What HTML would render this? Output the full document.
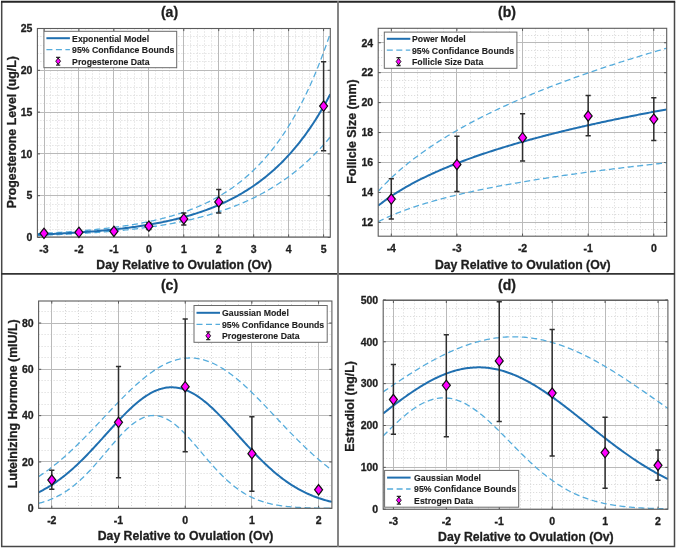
<!DOCTYPE html><html><head><meta charset="utf-8"><style>html,body{margin:0;padding:0;background:#fff;overflow:hidden}svg{display:block;filter:blur(0.35px)}</style></head><body><svg width="676" height="549" viewBox="0 0 676 549" font-family='"Liberation Sans", sans-serif'><rect width="676" height="549" fill="#fff"/><clipPath id="c3728"><rect x="37.4" y="28.5" width="292.9" height="208.5"/></clipPath><path d="M50.5,28.5V237M57.5,28.5V237M64.5,28.5V237M71.5,28.5V237M85.5,28.5V237M92.5,28.5V237M99.5,28.5V237M106.5,28.5V237M120.5,28.5V237M127.5,28.5V237M134.5,28.5V237M141.5,28.5V237M155.5,28.5V237M162.5,28.5V237M169.5,28.5V237M176.5,28.5V237M190.5,28.5V237M197.5,28.5V237M204.5,28.5V237M211.5,28.5V237M225.5,28.5V237M232.5,28.5V237M239.5,28.5V237M246.5,28.5V237M260.5,28.5V237M267.5,28.5V237M274.5,28.5V237M281.5,28.5V237M295.5,28.5V237M302.5,28.5V237M309.5,28.5V237M316.5,28.5V237M37.4,229.5H330.3M37.4,220.5H330.3M37.4,212.5H330.3M37.4,204.5H330.3M37.4,187.5H330.3M37.4,178.5H330.3M37.4,170.5H330.3M37.4,162.5H330.3M37.4,145.5H330.3M37.4,137.5H330.3M37.4,128.5H330.3M37.4,120.5H330.3M37.4,103.5H330.3M37.4,95.5H330.3M37.4,87.5H330.3M37.4,78.5H330.3M37.4,61.5H330.3M37.4,53.5H330.3M37.4,45.5H330.3M37.4,36.5H330.3" stroke="#d6d6d6" stroke-width="1" stroke-dasharray="1,2" fill="none"/><path d="M44.5,28.5V237M78.5,28.5V237M113.5,28.5V237M148.5,28.5V237M183.5,28.5V237M218.5,28.5V237M253.5,28.5V237M288.5,28.5V237M323.5,28.5V237M37.4,237.5H330.3M37.4,195.5H330.3M37.4,153.5H330.3M37.4,112.5H330.3M37.4,70.5H330.3M37.4,28.5H330.3" stroke="#bababa" stroke-width="1" fill="none"/><path d="M44,237v-2.6M44,28.5v2.6M78.95,237v-2.6M78.95,28.5v2.6M113.9,237v-2.6M113.9,28.5v2.6M148.85,237v-2.6M148.85,28.5v2.6M183.8,237v-2.6M183.8,28.5v2.6M218.75,237v-2.6M218.75,28.5v2.6M253.7,237v-2.6M253.7,28.5v2.6M288.65,237v-2.6M288.65,28.5v2.6M323.6,237v-2.6M323.6,28.5v2.6M37.4,237.5h2.6M330.3,237.5h-2.6M37.4,195.7h2.6M330.3,195.7h-2.6M37.4,153.9h2.6M330.3,153.9h-2.6M37.4,112.1h2.6M330.3,112.1h-2.6M37.4,70.3h2.6M330.3,70.3h-2.6M37.4,28.5h2.6M330.3,28.5h-2.6" stroke="#555" stroke-width="1" fill="none"/><g clip-path="url(#c3728)"><path d="M37.4,233.6 L38.87,233.53 L40.34,233.45 L41.82,233.38 L43.29,233.31 L44.76,233.23 L46.23,233.15 L47.7,233.07 L49.17,232.99 L50.65,232.91 L52.12,232.83 L53.59,232.74 L55.06,232.66 L56.53,232.57 L58.01,232.48 L59.48,232.39 L60.95,232.29 L62.42,232.2 L63.89,232.1 L65.37,232 L66.84,231.9 L68.31,231.8 L69.78,231.69 L71.25,231.59 L72.72,231.48 L74.2,231.37 L75.67,231.25 L77.14,231.14 L78.61,231.02 L80.08,230.9 L81.56,230.78 L83.03,230.66 L84.5,230.53 L85.97,230.4 L87.44,230.27 L88.92,230.13 L90.39,230 L91.86,229.86 L93.33,229.71 L94.8,229.57 L96.27,229.42 L97.75,229.27 L99.22,229.12 L100.69,228.96 L102.16,228.8 L103.63,228.64 L105.11,228.47 L106.58,228.3 L108.05,228.13 L109.52,227.95 L110.99,227.77 L112.46,227.58 L113.94,227.4 L115.41,227.2 L116.88,227.01 L118.35,226.81 L119.82,226.61 L121.3,226.4 L122.77,226.19 L124.24,225.97 L125.71,225.75 L127.18,225.52 L128.66,225.29 L130.13,225.06 L131.6,224.82 L133.07,224.58 L134.54,224.33 L136.01,224.07 L137.49,223.81 L138.96,223.55 L140.43,223.28 L141.9,223 L143.37,222.72 L144.85,222.43 L146.32,222.14 L147.79,221.83 L149.26,221.53 L150.73,221.22 L152.21,220.9 L153.68,220.57 L155.15,220.24 L156.62,219.9 L158.09,219.55 L159.56,219.19 L161.04,218.83 L162.51,218.46 L163.98,218.08 L165.45,217.7 L166.92,217.3 L168.4,216.9 L169.87,216.49 L171.34,216.07 L172.81,215.64 L174.28,215.2 L175.75,214.75 L177.23,214.3 L178.7,213.83 L180.17,213.35 L181.64,212.87 L183.11,212.37 L184.59,211.86 L186.06,211.34 L187.53,210.81 L189,210.27 L190.47,209.71 L191.95,209.15 L193.42,208.57 L194.89,207.98 L196.36,207.37 L197.83,206.76 L199.3,206.13 L200.78,205.48 L202.25,204.83 L203.72,204.15 L205.19,203.47 L206.66,202.76 L208.14,202.05 L209.61,201.32 L211.08,200.57 L212.55,199.8 L214.02,199.02 L215.49,198.22 L216.97,197.41 L218.44,196.57 L219.91,195.72 L221.38,194.85 L222.85,193.96 L224.33,193.05 L225.8,192.12 L227.27,191.17 L228.74,190.2 L230.21,189.21 L231.69,188.2 L233.16,187.16 L234.63,186.1 L236.1,185.02 L237.57,183.92 L239.04,182.79 L240.52,181.64 L241.99,180.46 L243.46,179.25 L244.93,178.02 L246.4,176.76 L247.88,175.48 L249.35,174.16 L250.82,172.82 L252.29,171.45 L253.76,170.05 L255.24,168.61 L256.71,167.15 L258.18,165.65 L259.65,164.12 L261.12,162.56 L262.59,160.96 L264.07,159.33 L265.54,157.66 L267.01,155.95 L268.48,154.21 L269.95,152.43 L271.43,150.61 L272.9,148.75 L274.37,146.85 L275.84,144.91 L277.31,142.92 L278.78,140.89 L280.26,138.82 L281.73,136.7 L283.2,134.53 L284.67,132.32 L286.14,130.06 L287.62,127.74 L289.09,125.38 L290.56,122.97 L292.03,120.5 L293.5,117.98 L294.98,115.4 L296.45,112.76 L297.92,110.07 L299.39,107.32 L300.86,104.51 L302.33,101.63 L303.81,98.69 L305.28,95.69 L306.75,92.62 L308.22,89.49 L309.69,86.28 L311.17,83.01 L312.64,79.66 L314.11,76.24 L315.58,72.74 L317.05,69.17 L318.53,65.51 L320,61.78 L321.47,57.96 L322.94,54.06 L324.41,50.08 L325.88,46.01 L327.36,41.84 L328.83,37.59 L330.3,33.24" stroke="#55acdc" stroke-width="1.3" stroke-dasharray="6,3.5" fill="none"/><path d="M37.4,235.33 L38.87,235.29 L40.34,235.24 L41.82,235.19 L43.29,235.14 L44.76,235.09 L46.23,235.04 L47.7,234.98 L49.17,234.93 L50.65,234.88 L52.12,234.82 L53.59,234.76 L55.06,234.7 L56.53,234.64 L58.01,234.58 L59.48,234.52 L60.95,234.46 L62.42,234.39 L63.89,234.33 L65.37,234.26 L66.84,234.19 L68.31,234.12 L69.78,234.05 L71.25,233.98 L72.72,233.9 L74.2,233.83 L75.67,233.75 L77.14,233.67 L78.61,233.59 L80.08,233.51 L81.56,233.42 L83.03,233.34 L84.5,233.25 L85.97,233.16 L87.44,233.07 L88.92,232.97 L90.39,232.88 L91.86,232.78 L93.33,232.68 L94.8,232.58 L96.27,232.48 L97.75,232.38 L99.22,232.27 L100.69,232.16 L102.16,232.05 L103.63,231.94 L105.11,231.82 L106.58,231.7 L108.05,231.58 L109.52,231.46 L110.99,231.34 L112.46,231.21 L113.94,231.08 L115.41,230.95 L116.88,230.81 L118.35,230.68 L119.82,230.54 L121.3,230.39 L122.77,230.25 L124.24,230.1 L125.71,229.95 L127.18,229.79 L128.66,229.64 L130.13,229.48 L131.6,229.32 L133.07,229.15 L134.54,228.98 L136.01,228.81 L137.49,228.63 L138.96,228.45 L140.43,228.27 L141.9,228.09 L143.37,227.9 L144.85,227.7 L146.32,227.51 L147.79,227.31 L149.26,227.1 L150.73,226.9 L152.21,226.68 L153.68,226.47 L155.15,226.25 L156.62,226.03 L158.09,225.8 L159.56,225.57 L161.04,225.33 L162.51,225.09 L163.98,224.85 L165.45,224.6 L166.92,224.35 L168.4,224.09 L169.87,223.82 L171.34,223.56 L172.81,223.28 L174.28,223.01 L175.75,222.73 L177.23,222.44 L178.7,222.15 L180.17,221.85 L181.64,221.54 L183.11,221.24 L184.59,220.92 L186.06,220.6 L187.53,220.28 L189,219.95 L190.47,219.61 L191.95,219.26 L193.42,218.92 L194.89,218.56 L196.36,218.2 L197.83,217.83 L199.3,217.45 L200.78,217.07 L202.25,216.69 L203.72,216.29 L205.19,215.89 L206.66,215.48 L208.14,215.06 L209.61,214.64 L211.08,214.21 L212.55,213.77 L214.02,213.32 L215.49,212.87 L216.97,212.4 L218.44,211.93 L219.91,211.45 L221.38,210.97 L222.85,210.47 L224.33,209.97 L225.8,209.45 L227.27,208.93 L228.74,208.4 L230.21,207.86 L231.69,207.31 L233.16,206.75 L234.63,206.18 L236.1,205.6 L237.57,205.01 L239.04,204.41 L240.52,203.79 L241.99,203.17 L243.46,202.54 L244.93,201.9 L246.4,201.24 L247.88,200.57 L249.35,199.9 L250.82,199.21 L252.29,198.5 L253.76,197.79 L255.24,197.06 L256.71,196.32 L258.18,195.57 L259.65,194.8 L261.12,194.03 L262.59,193.23 L264.07,192.43 L265.54,191.61 L267.01,190.77 L268.48,189.92 L269.95,189.06 L271.43,188.18 L272.9,187.28 L274.37,186.37 L275.84,185.44 L277.31,184.5 L278.78,183.54 L280.26,182.57 L281.73,181.57 L283.2,180.56 L284.67,179.53 L286.14,178.49 L287.62,177.42 L289.09,176.34 L290.56,175.24 L292.03,174.12 L293.5,172.98 L294.98,171.82 L296.45,170.64 L297.92,169.44 L299.39,168.21 L300.86,166.97 L302.33,165.7 L303.81,164.42 L305.28,163.11 L306.75,161.77 L308.22,160.42 L309.69,159.04 L311.17,157.63 L312.64,156.21 L314.11,154.75 L315.58,153.27 L317.05,151.77 L318.53,150.24 L320,148.68 L321.47,147.1 L322.94,145.48 L324.41,143.84 L325.88,142.17 L327.36,140.48 L328.83,138.75 L330.3,136.99" stroke="#55acdc" stroke-width="1.3" stroke-dasharray="6,3.5" fill="none"/><path d="M37.4,234.59 L38.87,234.53 L40.34,234.47 L41.82,234.41 L43.29,234.35 L44.76,234.29 L46.23,234.23 L47.7,234.16 L49.17,234.1 L50.65,234.03 L52.12,233.96 L53.59,233.89 L55.06,233.82 L56.53,233.75 L58.01,233.67 L59.48,233.6 L60.95,233.52 L62.42,233.44 L63.89,233.36 L65.37,233.28 L66.84,233.2 L68.31,233.11 L69.78,233.02 L71.25,232.94 L72.72,232.85 L74.2,232.75 L75.67,232.66 L77.14,232.56 L78.61,232.47 L80.08,232.37 L81.56,232.27 L83.03,232.16 L84.5,232.06 L85.97,231.95 L87.44,231.84 L88.92,231.73 L90.39,231.61 L91.86,231.5 L93.33,231.38 L94.8,231.26 L96.27,231.13 L97.75,231.01 L99.22,230.88 L100.69,230.75 L102.16,230.61 L103.63,230.48 L105.11,230.34 L106.58,230.2 L108.05,230.05 L109.52,229.91 L110.99,229.76 L112.46,229.6 L113.94,229.45 L115.41,229.29 L116.88,229.12 L118.35,228.96 L119.82,228.79 L121.3,228.62 L122.77,228.44 L124.24,228.26 L125.71,228.08 L127.18,227.89 L128.66,227.7 L130.13,227.51 L131.6,227.31 L133.07,227.11 L134.54,226.91 L136.01,226.7 L137.49,226.48 L138.96,226.26 L140.43,226.04 L141.9,225.82 L143.37,225.58 L144.85,225.35 L146.32,225.11 L147.79,224.86 L149.26,224.61 L150.73,224.36 L152.21,224.1 L153.68,223.83 L155.15,223.56 L156.62,223.29 L158.09,223.01 L159.56,222.72 L161.04,222.43 L162.51,222.13 L163.98,221.83 L165.45,221.52 L166.92,221.2 L168.4,220.88 L169.87,220.55 L171.34,220.21 L172.81,219.87 L174.28,219.52 L175.75,219.17 L177.23,218.81 L178.7,218.44 L180.17,218.06 L181.64,217.67 L183.11,217.28 L184.59,216.88 L186.06,216.47 L187.53,216.06 L189,215.63 L190.47,215.2 L191.95,214.76 L193.42,214.31 L194.89,213.85 L196.36,213.39 L197.83,212.91 L199.3,212.42 L200.78,211.93 L202.25,211.42 L203.72,210.91 L205.19,210.38 L206.66,209.84 L208.14,209.3 L209.61,208.74 L211.08,208.17 L212.55,207.59 L214.02,207 L215.49,206.39 L216.97,205.78 L218.44,205.15 L219.91,204.51 L221.38,203.86 L222.85,203.19 L224.33,202.52 L225.8,201.82 L227.27,201.12 L228.74,200.4 L230.21,199.67 L231.69,198.92 L233.16,198.15 L234.63,197.38 L236.1,196.58 L237.57,195.77 L239.04,194.95 L240.52,194.11 L241.99,193.25 L243.46,192.37 L244.93,191.48 L246.4,190.57 L247.88,189.64 L249.35,188.7 L250.82,187.73 L252.29,186.75 L253.76,185.74 L255.24,184.72 L256.71,183.68 L258.18,182.61 L259.65,181.53 L261.12,180.42 L262.59,179.29 L264.07,178.14 L265.54,176.97 L267.01,175.77 L268.48,174.55 L269.95,173.3 L271.43,172.03 L272.9,170.74 L274.37,169.42 L275.84,168.07 L277.31,166.7 L278.78,165.3 L280.26,163.87 L281.73,162.42 L283.2,160.93 L284.67,159.42 L286.14,157.87 L287.62,156.3 L289.09,154.69 L290.56,153.06 L292.03,151.39 L293.5,149.68 L294.98,147.95 L296.45,146.17 L297.92,144.37 L299.39,142.53 L300.86,140.65 L302.33,138.73 L303.81,136.78 L305.28,134.79 L306.75,132.76 L308.22,130.69 L309.69,128.57 L311.17,126.42 L312.64,124.22 L314.11,121.98 L315.58,119.7 L317.05,117.37 L318.53,114.99 L320,112.57 L321.47,110.1 L322.94,107.58 L324.41,105.01 L325.88,102.39 L327.36,99.72 L328.83,96.99 L330.3,94.22" stroke="#1f6fb0" stroke-width="2" fill="none"/></g><rect x="37.4" y="28.5" width="292.9" height="208.5" stroke="#5c5c5c" stroke-width="1.1" fill="none"/><path d="M44,234.57V232.07M41.4,234.57h5.2M41.4,232.07h5.2M78.95,233.74V230.81M76.35,233.74h5.2M76.35,230.81h5.2M113.9,233.32V229.14M111.3,233.32h5.2M111.3,229.14h5.2M148.85,229.56V222.87M146.25,229.56h5.2M146.25,222.87h5.2M183.8,224.96V213.01M181.2,224.96h5.2M181.2,213.01h5.2M218.75,213.01V189.6M216.15,213.01h5.2M216.15,189.6h5.2M323.6,150.64V61.69M321,150.64h5.2M321,61.69h5.2" stroke="#2e2e2e" stroke-width="1.5" fill="none"/><path d="M44,228.12L48,233.32L44,238.52L40,233.32Z" fill="#ff00ff" stroke="#111" stroke-width="1.2"/><path d="M78.95,227.12L82.95,232.32L78.95,237.52L74.95,232.32Z" fill="#ff00ff" stroke="#111" stroke-width="1.2"/><path d="M113.9,226.2L117.9,231.4L113.9,236.6L109.9,231.4Z" fill="#ff00ff" stroke="#111" stroke-width="1.2"/><path d="M148.85,220.93L152.85,226.13L148.85,231.33L144.85,226.13Z" fill="#ff00ff" stroke="#111" stroke-width="1.2"/><path d="M183.8,213.74L187.8,218.94L183.8,224.14L179.8,218.94Z" fill="#ff00ff" stroke="#111" stroke-width="1.2"/><path d="M218.75,196.77L222.75,201.97L218.75,207.17L214.75,201.97Z" fill="#ff00ff" stroke="#111" stroke-width="1.2"/><path d="M323.6,100.88L327.6,106.08L323.6,111.28L319.6,106.08Z" fill="#ff00ff" stroke="#111" stroke-width="1.2"/><rect x="43.9" y="31.3" width="132.8" height="36.4" fill="#fff" stroke="#6a6a6a" stroke-width="1"/><path d="M46.4,38.2H69.9" stroke="#1f6fb0" stroke-width="2"/><path d="M46.4,49.6H69.9" stroke="#55acdc" stroke-width="1.3" stroke-dasharray="6,3.5"/><path d="M58.15,57.3V65.1M56.05,57.3h4.2M56.05,65.1h4.2" stroke="#2a2a2a" stroke-width="1.3"/><path d="M58.15,58L60.55,61.2L58.15,64.4L55.75,61.2Z" fill="#ff00ff" stroke="#111" stroke-width="0.9"/><text x="72.1" y="41.9" font-size="9.1" textLength="77.03" lengthAdjust="spacingAndGlyphs" font-weight="bold" fill="#1e1e1e" stroke="#1e1e1e" stroke-width="0.12">Exponential Model</text><text x="72.1" y="53.3" font-size="9.1" textLength="102.22" lengthAdjust="spacingAndGlyphs" font-weight="bold" fill="#1e1e1e" stroke="#1e1e1e" stroke-width="0.12">95% Confidance Bounds</text><text x="72.1" y="64.9" font-size="9.1" textLength="77.53" lengthAdjust="spacingAndGlyphs" font-weight="bold" fill="#1e1e1e" stroke="#1e1e1e" stroke-width="0.12">Progesterone Data</text><text x="44" y="252.5" font-size="10.5" font-weight="bold" text-anchor="middle" fill="#1e1e1e" stroke="#1e1e1e" stroke-width="0.3">-3</text><text x="78.95" y="252.5" font-size="10.5" font-weight="bold" text-anchor="middle" fill="#1e1e1e" stroke="#1e1e1e" stroke-width="0.3">-2</text><text x="113.9" y="252.5" font-size="10.5" font-weight="bold" text-anchor="middle" fill="#1e1e1e" stroke="#1e1e1e" stroke-width="0.3">-1</text><text x="148.85" y="252.5" font-size="10.5" font-weight="bold" text-anchor="middle" fill="#1e1e1e" stroke="#1e1e1e" stroke-width="0.3">0</text><text x="183.8" y="252.5" font-size="10.5" font-weight="bold" text-anchor="middle" fill="#1e1e1e" stroke="#1e1e1e" stroke-width="0.3">1</text><text x="218.75" y="252.5" font-size="10.5" font-weight="bold" text-anchor="middle" fill="#1e1e1e" stroke="#1e1e1e" stroke-width="0.3">2</text><text x="253.7" y="252.5" font-size="10.5" font-weight="bold" text-anchor="middle" fill="#1e1e1e" stroke="#1e1e1e" stroke-width="0.3">3</text><text x="288.65" y="252.5" font-size="10.5" font-weight="bold" text-anchor="middle" fill="#1e1e1e" stroke="#1e1e1e" stroke-width="0.3">4</text><text x="323.6" y="252.5" font-size="10.5" font-weight="bold" text-anchor="middle" fill="#1e1e1e" stroke="#1e1e1e" stroke-width="0.3">5</text><text x="32.4" y="241.25" font-size="10.5" font-weight="bold" text-anchor="end" fill="#1e1e1e" stroke="#1e1e1e" stroke-width="0.3">0</text><text x="32.4" y="199.45" font-size="10.5" font-weight="bold" text-anchor="end" fill="#1e1e1e" stroke="#1e1e1e" stroke-width="0.3">5</text><text x="32.4" y="157.65" font-size="10.5" font-weight="bold" text-anchor="end" fill="#1e1e1e" stroke="#1e1e1e" stroke-width="0.3">10</text><text x="32.4" y="115.85" font-size="10.5" font-weight="bold" text-anchor="end" fill="#1e1e1e" stroke="#1e1e1e" stroke-width="0.3">15</text><text x="32.4" y="74.05" font-size="10.5" font-weight="bold" text-anchor="end" fill="#1e1e1e" stroke="#1e1e1e" stroke-width="0.3">20</text><text x="32.4" y="32.25" font-size="10.5" font-weight="bold" text-anchor="end" fill="#1e1e1e" stroke="#1e1e1e" stroke-width="0.3">25</text><text x="184.15" y="268.8" font-size="12.25" font-weight="bold" text-anchor="middle" fill="#1e1e1e" stroke="#1e1e1e" stroke-width="0.3">Day Relative to Ovulation (Ov)</text><text transform="translate(16.1,132.2) rotate(-90)" font-size="12.35" font-weight="bold" text-anchor="middle" fill="#1e1e1e" stroke="#1e1e1e" stroke-width="0.3">Progesterone Level (ug/L)</text><text x="169.5" y="16.8" font-size="14" font-weight="bold" text-anchor="middle" fill="#1e1e1e" stroke="#1e1e1e" stroke-width="0.3">(a)</text><clipPath id="c37828"><rect x="378.2" y="28.3" width="288.5" height="207.9"/></clipPath><path d="M404.5,28.3V236.2M417.5,28.3V236.2M430.5,28.3V236.2M443.5,28.3V236.2M470.5,28.3V236.2M483.5,28.3V236.2M496.5,28.3V236.2M509.5,28.3V236.2M535.5,28.3V236.2M548.5,28.3V236.2M561.5,28.3V236.2M575.5,28.3V236.2M601.5,28.3V236.2M614.5,28.3V236.2M627.5,28.3V236.2M640.5,28.3V236.2M378.2,229.5H666.7M378.2,214.5H666.7M378.2,207.5H666.7M378.2,199.5H666.7M378.2,184.5H666.7M378.2,177.5H666.7M378.2,170.5H666.7M378.2,155.5H666.7M378.2,147.5H666.7M378.2,140.5H666.7M378.2,125.5H666.7M378.2,117.5H666.7M378.2,110.5H666.7M378.2,95.5H666.7M378.2,87.5H666.7M378.2,80.5H666.7M378.2,65.5H666.7M378.2,57.5H666.7M378.2,50.5H666.7M378.2,35.5H666.7" stroke="#d6d6d6" stroke-width="1" stroke-dasharray="1,2" fill="none"/><path d="M391.5,28.3V236.2M456.5,28.3V236.2M522.5,28.3V236.2M588.5,28.3V236.2M653.5,28.3V236.2M378.2,222.5H666.7M378.2,192.5H666.7M378.2,162.5H666.7M378.2,132.5H666.7M378.2,102.5H666.7M378.2,72.5H666.7M378.2,42.5H666.7" stroke="#bababa" stroke-width="1" fill="none"/><path d="M391.3,236.2v-2.6M391.3,28.3v2.6M456.93,236.2v-2.6M456.93,28.3v2.6M522.55,236.2v-2.6M522.55,28.3v2.6M588.17,236.2v-2.6M588.17,28.3v2.6M653.8,236.2v-2.6M653.8,28.3v2.6M378.2,222.4h2.6M666.7,222.4h-2.6M378.2,192.46h2.6M666.7,192.46h-2.6M378.2,162.52h2.6M666.7,162.52h-2.6M378.2,132.57h2.6M666.7,132.57h-2.6M378.2,102.63h2.6M666.7,102.63h-2.6M378.2,72.69h2.6M666.7,72.69h-2.6M378.2,42.75h2.6M666.7,42.75h-2.6" stroke="#555" stroke-width="1" fill="none"/><g clip-path="url(#c37828)"><path d="M378.2,191.31 L379.65,189.72 L381.1,188.15 L382.55,186.62 L384,185.11 L385.45,183.63 L386.9,182.17 L388.35,180.74 L389.8,179.34 L391.25,177.95 L392.7,176.59 L394.15,175.25 L395.6,173.93 L397.05,172.63 L398.5,171.34 L399.95,170.08 L401.4,168.83 L402.85,167.61 L404.3,166.39 L405.75,165.2 L407.19,164.02 L408.64,162.85 L410.09,161.7 L411.54,160.56 L412.99,159.44 L414.44,158.33 L415.89,157.23 L417.34,156.15 L418.79,155.08 L420.24,154.02 L421.69,152.97 L423.14,151.93 L424.59,150.91 L426.04,149.89 L427.49,148.89 L428.94,147.9 L430.39,146.91 L431.84,145.94 L433.29,144.97 L434.74,144.02 L436.19,143.07 L437.64,142.14 L439.09,141.21 L440.54,140.29 L441.99,139.38 L443.44,138.47 L444.89,137.58 L446.34,136.69 L447.79,135.81 L449.24,134.94 L450.69,134.07 L452.14,133.22 L453.59,132.37 L455.04,131.52 L456.49,130.69 L457.94,129.86 L459.39,129.03 L460.84,128.21 L462.29,127.4 L463.74,126.6 L465.18,125.8 L466.63,125.01 L468.08,124.22 L469.53,123.44 L470.98,122.67 L472.43,121.9 L473.88,121.13 L475.33,120.37 L476.78,119.62 L478.23,118.87 L479.68,118.13 L481.13,117.39 L482.58,116.66 L484.03,115.93 L485.48,115.2 L486.93,114.49 L488.38,113.77 L489.83,113.06 L491.28,112.36 L492.73,111.66 L494.18,110.96 L495.63,110.27 L497.08,109.58 L498.53,108.9 L499.98,108.22 L501.43,107.54 L502.88,106.87 L504.33,106.2 L505.78,105.54 L507.23,104.88 L508.68,104.23 L510.13,103.57 L511.58,102.93 L513.03,102.28 L514.48,101.64 L515.93,101 L517.38,100.37 L518.83,99.74 L520.28,99.11 L521.73,98.49 L523.17,97.87 L524.62,97.25 L526.07,96.64 L527.52,96.02 L528.97,95.42 L530.42,94.81 L531.87,94.21 L533.32,93.61 L534.77,93.02 L536.22,92.43 L537.67,91.84 L539.12,91.25 L540.57,90.67 L542.02,90.09 L543.47,89.51 L544.92,88.93 L546.37,88.36 L547.82,87.79 L549.27,87.22 L550.72,86.66 L552.17,86.1 L553.62,85.54 L555.07,84.98 L556.52,84.43 L557.97,83.88 L559.42,83.33 L560.87,82.78 L562.32,82.24 L563.77,81.69 L565.22,81.16 L566.67,80.62 L568.12,80.08 L569.57,79.55 L571.02,79.02 L572.47,78.49 L573.92,77.97 L575.37,77.44 L576.82,76.92 L578.27,76.4 L579.72,75.89 L581.16,75.37 L582.61,74.86 L584.06,74.35 L585.51,73.84 L586.96,73.33 L588.41,72.83 L589.86,72.33 L591.31,71.83 L592.76,71.33 L594.21,70.83 L595.66,70.34 L597.11,69.84 L598.56,69.35 L600.01,68.87 L601.46,68.38 L602.91,67.89 L604.36,67.41 L605.81,66.93 L607.26,66.45 L608.71,65.97 L610.16,65.49 L611.61,65.02 L613.06,64.55 L614.51,64.08 L615.96,63.61 L617.41,63.14 L618.86,62.67 L620.31,62.21 L621.76,61.75 L623.21,61.29 L624.66,60.83 L626.11,60.37 L627.56,59.91 L629.01,59.46 L630.46,59.01 L631.91,58.55 L633.36,58.1 L634.81,57.66 L636.26,57.21 L637.71,56.76 L639.15,56.32 L640.6,55.88 L642.05,55.44 L643.5,55 L644.95,54.56 L646.4,54.12 L647.85,53.69 L649.3,53.25 L650.75,52.82 L652.2,52.39 L653.65,51.96 L655.1,51.53 L656.55,51.11 L658,50.68 L659.45,50.26 L660.9,49.83 L662.35,49.41 L663.8,48.99 L665.25,48.57 L666.7,48.16" stroke="#55acdc" stroke-width="1.3" stroke-dasharray="6,3.5" fill="none"/><path d="M378.2,221.74 L379.65,220.99 L381.1,220.27 L382.55,219.56 L384,218.86 L385.45,218.18 L386.9,217.51 L388.35,216.86 L389.8,216.22 L391.25,215.59 L392.7,214.97 L394.15,214.36 L395.6,213.77 L397.05,213.18 L398.5,212.61 L399.95,212.04 L401.4,211.49 L402.85,210.94 L404.3,210.4 L405.75,209.87 L407.19,209.35 L408.64,208.84 L410.09,208.33 L411.54,207.83 L412.99,207.34 L414.44,206.85 L415.89,206.38 L417.34,205.9 L418.79,205.44 L420.24,204.98 L421.69,204.53 L423.14,204.08 L424.59,203.64 L426.04,203.2 L427.49,202.77 L428.94,202.34 L430.39,201.92 L431.84,201.5 L433.29,201.09 L434.74,200.68 L436.19,200.28 L437.64,199.88 L439.09,199.49 L440.54,199.1 L441.99,198.72 L443.44,198.34 L444.89,197.96 L446.34,197.59 L447.79,197.22 L449.24,196.85 L450.69,196.49 L452.14,196.13 L453.59,195.78 L455.04,195.42 L456.49,195.08 L457.94,194.73 L459.39,194.39 L460.84,194.05 L462.29,193.71 L463.74,193.38 L465.18,193.05 L466.63,192.72 L468.08,192.4 L469.53,192.08 L470.98,191.76 L472.43,191.45 L473.88,191.13 L475.33,190.82 L476.78,190.51 L478.23,190.21 L479.68,189.91 L481.13,189.6 L482.58,189.31 L484.03,189.01 L485.48,188.72 L486.93,188.43 L488.38,188.14 L489.83,187.85 L491.28,187.56 L492.73,187.28 L494.18,187 L495.63,186.72 L497.08,186.45 L498.53,186.17 L499.98,185.9 L501.43,185.63 L502.88,185.36 L504.33,185.09 L505.78,184.83 L507.23,184.56 L508.68,184.3 L510.13,184.04 L511.58,183.78 L513.03,183.53 L514.48,183.27 L515.93,183.02 L517.38,182.77 L518.83,182.52 L520.28,182.27 L521.73,182.02 L523.17,181.78 L524.62,181.54 L526.07,181.29 L527.52,181.05 L528.97,180.81 L530.42,180.58 L531.87,180.34 L533.32,180.1 L534.77,179.87 L536.22,179.64 L537.67,179.41 L539.12,179.18 L540.57,178.95 L542.02,178.72 L543.47,178.5 L544.92,178.27 L546.37,178.05 L547.82,177.83 L549.27,177.61 L550.72,177.39 L552.17,177.17 L553.62,176.95 L555.07,176.74 L556.52,176.52 L557.97,176.31 L559.42,176.1 L560.87,175.89 L562.32,175.68 L563.77,175.47 L565.22,175.26 L566.67,175.05 L568.12,174.85 L569.57,174.64 L571.02,174.44 L572.47,174.24 L573.92,174.03 L575.37,173.83 L576.82,173.63 L578.27,173.43 L579.72,173.24 L581.16,173.04 L582.61,172.84 L584.06,172.65 L585.51,172.45 L586.96,172.26 L588.41,172.07 L589.86,171.88 L591.31,171.69 L592.76,171.5 L594.21,171.31 L595.66,171.12 L597.11,170.93 L598.56,170.75 L600.01,170.56 L601.46,170.38 L602.91,170.2 L604.36,170.01 L605.81,169.83 L607.26,169.65 L608.71,169.47 L610.16,169.29 L611.61,169.11 L613.06,168.93 L614.51,168.75 L615.96,168.58 L617.41,168.4 L618.86,168.23 L620.31,168.05 L621.76,167.88 L623.21,167.71 L624.66,167.53 L626.11,167.36 L627.56,167.19 L629.01,167.02 L630.46,166.85 L631.91,166.68 L633.36,166.52 L634.81,166.35 L636.26,166.18 L637.71,166.02 L639.15,165.85 L640.6,165.69 L642.05,165.52 L643.5,165.36 L644.95,165.19 L646.4,165.03 L647.85,164.87 L649.3,164.71 L650.75,164.55 L652.2,164.39 L653.65,164.23 L655.1,164.07 L656.55,163.91 L658,163.76 L659.45,163.6 L660.9,163.44 L662.35,163.29 L663.8,163.13 L665.25,162.98 L666.7,162.82" stroke="#55acdc" stroke-width="1.3" stroke-dasharray="6,3.5" fill="none"/><path d="M378.2,205.7 L379.65,204.56 L381.1,203.44 L382.55,202.34 L384,201.27 L385.45,200.21 L386.9,199.18 L388.35,198.16 L389.8,197.17 L391.25,196.19 L392.7,195.22 L394.15,194.28 L395.6,193.35 L397.05,192.43 L398.5,191.53 L399.95,190.64 L401.4,189.77 L402.85,188.91 L404.3,188.06 L405.75,187.22 L407.19,186.4 L408.64,185.59 L410.09,184.78 L411.54,183.99 L412.99,183.21 L414.44,182.44 L415.89,181.68 L417.34,180.93 L418.79,180.19 L420.24,179.46 L421.69,178.73 L423.14,178.02 L424.59,177.31 L426.04,176.61 L427.49,175.92 L428.94,175.24 L430.39,174.56 L431.84,173.89 L433.29,173.23 L434.74,172.58 L436.19,171.93 L437.64,171.29 L439.09,170.66 L440.54,170.03 L441.99,169.41 L443.44,168.79 L444.89,168.18 L446.34,167.58 L447.79,166.98 L449.24,166.39 L450.69,165.8 L452.14,165.22 L453.59,164.64 L455.04,164.07 L456.49,163.5 L457.94,162.94 L459.39,162.38 L460.84,161.83 L462.29,161.28 L463.74,160.74 L465.18,160.2 L466.63,159.67 L468.08,159.14 L469.53,158.61 L470.98,158.09 L472.43,157.57 L473.88,157.06 L475.33,156.55 L476.78,156.05 L478.23,155.54 L479.68,155.05 L481.13,154.55 L482.58,154.06 L484.03,153.57 L485.48,153.09 L486.93,152.61 L488.38,152.13 L489.83,151.66 L491.28,151.19 L492.73,150.72 L494.18,150.26 L495.63,149.8 L497.08,149.34 L498.53,148.89 L499.98,148.43 L501.43,147.99 L502.88,147.54 L504.33,147.1 L505.78,146.66 L507.23,146.22 L508.68,145.78 L510.13,145.35 L511.58,144.92 L513.03,144.5 L514.48,144.07 L515.93,143.65 L517.38,143.23 L518.83,142.82 L520.28,142.4 L521.73,141.99 L523.17,141.58 L524.62,141.18 L526.07,140.77 L527.52,140.37 L528.97,139.97 L530.42,139.57 L531.87,139.18 L533.32,138.78 L534.77,138.39 L536.22,138 L537.67,137.62 L539.12,137.23 L540.57,136.85 L542.02,136.47 L543.47,136.09 L544.92,135.71 L546.37,135.34 L547.82,134.96 L549.27,134.59 L550.72,134.22 L552.17,133.86 L553.62,133.49 L555.07,133.13 L556.52,132.77 L557.97,132.41 L559.42,132.05 L560.87,131.69 L562.32,131.34 L563.77,130.98 L565.22,130.63 L566.67,130.28 L568.12,129.93 L569.57,129.59 L571.02,129.24 L572.47,128.9 L573.92,128.56 L575.37,128.22 L576.82,127.88 L578.27,127.54 L579.72,127.21 L581.16,126.87 L582.61,126.54 L584.06,126.21 L585.51,125.88 L586.96,125.55 L588.41,125.23 L589.86,124.9 L591.31,124.58 L592.76,124.25 L594.21,123.93 L595.66,123.61 L597.11,123.3 L598.56,122.98 L600.01,122.66 L601.46,122.35 L602.91,122.04 L604.36,121.72 L605.81,121.41 L607.26,121.1 L608.71,120.8 L610.16,120.49 L611.61,120.18 L613.06,119.88 L614.51,119.58 L615.96,119.27 L617.41,118.97 L618.86,118.67 L620.31,118.38 L621.76,118.08 L623.21,117.78 L624.66,117.49 L626.11,117.19 L627.56,116.9 L629.01,116.61 L630.46,116.32 L631.91,116.03 L633.36,115.74 L634.81,115.45 L636.26,115.17 L637.71,114.88 L639.15,114.6 L640.6,114.31 L642.05,114.03 L643.5,113.75 L644.95,113.47 L646.4,113.19 L647.85,112.91 L649.3,112.64 L650.75,112.36 L652.2,112.09 L653.65,111.81 L655.1,111.54 L656.55,111.27 L658,110.99 L659.45,110.72 L660.9,110.45 L662.35,110.19 L663.8,109.92 L665.25,109.65 L666.7,109.38" stroke="#1f6fb0" stroke-width="2" fill="none"/></g><rect x="378.2" y="28.3" width="288.5" height="207.9" stroke="#5c5c5c" stroke-width="1.1" fill="none"/><path d="M391.3,219.11V178.69M388.7,219.11h5.2M388.7,178.69h5.2M456.93,191.56V136.32M454.32,191.56h5.2M454.32,136.32h5.2M522.55,161.02V113.71M519.95,161.02h5.2M519.95,113.71h5.2M588.17,135.87V95.6M585.57,135.87h5.2M585.57,95.6h5.2M653.8,140.51V97.69M651.2,140.51h5.2M651.2,97.69h5.2" stroke="#2e2e2e" stroke-width="1.5" fill="none"/><path d="M391.3,193.85L395.3,199.05L391.3,204.25L387.3,199.05Z" fill="#ff00ff" stroke="#111" stroke-width="1.2"/><path d="M456.93,159.26L460.93,164.46L456.93,169.66L452.93,164.46Z" fill="#ff00ff" stroke="#111" stroke-width="1.2"/><path d="M522.55,132.47L526.55,137.67L522.55,142.87L518.55,137.67Z" fill="#ff00ff" stroke="#111" stroke-width="1.2"/><path d="M588.17,110.76L592.17,115.96L588.17,121.16L584.17,115.96Z" fill="#ff00ff" stroke="#111" stroke-width="1.2"/><path d="M653.8,113.9L657.8,119.1L653.8,124.3L649.8,119.1Z" fill="#ff00ff" stroke="#111" stroke-width="1.2"/><rect x="384.3" y="32.1" width="132.6" height="36.2" fill="#fff" stroke="#6a6a6a" stroke-width="1"/><path d="M386.8,38.8H410.3" stroke="#1f6fb0" stroke-width="2"/><path d="M386.8,50.2H410.3" stroke="#55acdc" stroke-width="1.3" stroke-dasharray="6,3.5"/><path d="M398.55,57.7V65.5M396.45,57.7h4.2M396.45,65.5h4.2" stroke="#2a2a2a" stroke-width="1.3"/><path d="M398.55,58.4L400.95,61.6L398.55,64.8L396.15,61.6Z" fill="#ff00ff" stroke="#111" stroke-width="0.9"/><text x="412" y="42.2" font-size="9.1" textLength="53.78" lengthAdjust="spacingAndGlyphs" font-weight="bold" fill="#1e1e1e" stroke="#1e1e1e" stroke-width="0.12">Power Model</text><text x="412" y="53.6" font-size="9.1" textLength="102.22" lengthAdjust="spacingAndGlyphs" font-weight="bold" fill="#1e1e1e" stroke="#1e1e1e" stroke-width="0.12">95% Confidance Bounds</text><text x="412" y="65" font-size="9.1" textLength="71.23" lengthAdjust="spacingAndGlyphs" font-weight="bold" fill="#1e1e1e" stroke="#1e1e1e" stroke-width="0.12">Follicle Size Data</text><text x="391.3" y="251.7" font-size="10.5" font-weight="bold" text-anchor="middle" fill="#1e1e1e" stroke="#1e1e1e" stroke-width="0.3">-4</text><text x="456.93" y="251.7" font-size="10.5" font-weight="bold" text-anchor="middle" fill="#1e1e1e" stroke="#1e1e1e" stroke-width="0.3">-3</text><text x="522.55" y="251.7" font-size="10.5" font-weight="bold" text-anchor="middle" fill="#1e1e1e" stroke="#1e1e1e" stroke-width="0.3">-2</text><text x="588.17" y="251.7" font-size="10.5" font-weight="bold" text-anchor="middle" fill="#1e1e1e" stroke="#1e1e1e" stroke-width="0.3">-1</text><text x="653.8" y="251.7" font-size="10.5" font-weight="bold" text-anchor="middle" fill="#1e1e1e" stroke="#1e1e1e" stroke-width="0.3">0</text><text x="373.2" y="226.15" font-size="10.5" font-weight="bold" text-anchor="end" fill="#1e1e1e" stroke="#1e1e1e" stroke-width="0.3">12</text><text x="373.2" y="196.21" font-size="10.5" font-weight="bold" text-anchor="end" fill="#1e1e1e" stroke="#1e1e1e" stroke-width="0.3">14</text><text x="373.2" y="166.27" font-size="10.5" font-weight="bold" text-anchor="end" fill="#1e1e1e" stroke="#1e1e1e" stroke-width="0.3">16</text><text x="373.2" y="136.32" font-size="10.5" font-weight="bold" text-anchor="end" fill="#1e1e1e" stroke="#1e1e1e" stroke-width="0.3">18</text><text x="373.2" y="106.38" font-size="10.5" font-weight="bold" text-anchor="end" fill="#1e1e1e" stroke="#1e1e1e" stroke-width="0.3">20</text><text x="373.2" y="76.44" font-size="10.5" font-weight="bold" text-anchor="end" fill="#1e1e1e" stroke="#1e1e1e" stroke-width="0.3">22</text><text x="373.2" y="46.5" font-size="10.5" font-weight="bold" text-anchor="end" fill="#1e1e1e" stroke="#1e1e1e" stroke-width="0.3">24</text><text x="522.75" y="268.8" font-size="12.25" font-weight="bold" text-anchor="middle" fill="#1e1e1e" stroke="#1e1e1e" stroke-width="0.3">Day Relative to Ovulation (Ov)</text><text transform="translate(356.4,131.5) rotate(-90)" font-size="12.35" font-weight="bold" text-anchor="middle" fill="#1e1e1e" stroke="#1e1e1e" stroke-width="0.3">Follicle Size (mm)</text><text x="507" y="16.8" font-size="14" font-weight="bold" text-anchor="middle" fill="#1e1e1e" stroke="#1e1e1e" stroke-width="0.3">(b)</text><clipPath id="c38301"><rect x="38.6" y="301" width="293.3" height="207.3"/></clipPath><path d="M65.5,301V508.3M78.5,301V508.3M91.5,301V508.3M105.5,301V508.3M131.5,301V508.3M145.5,301V508.3M158.5,301V508.3M171.5,301V508.3M198.5,301V508.3M211.5,301V508.3M225.5,301V508.3M238.5,301V508.3M265.5,301V508.3M278.5,301V508.3M291.5,301V508.3M305.5,301V508.3M38.6,496.5H331.9M38.6,485.5H331.9M38.6,473.5H331.9M38.6,450.5H331.9M38.6,438.5H331.9M38.6,427.5H331.9M38.6,404.5H331.9M38.6,392.5H331.9M38.6,380.5H331.9M38.6,357.5H331.9M38.6,346.5H331.9M38.6,334.5H331.9M38.6,311.5H331.9" stroke="#d6d6d6" stroke-width="1" stroke-dasharray="1,2" fill="none"/><path d="M51.5,301V508.3M118.5,301V508.3M185.5,301V508.3M251.5,301V508.3M318.5,301V508.3M38.6,508.5H331.9M38.6,461.5H331.9M38.6,415.5H331.9M38.6,369.5H331.9M38.6,323.5H331.9" stroke="#bababa" stroke-width="1" fill="none"/><path d="M51.8,508.3v-2.6M51.8,301v2.6M118.5,508.3v-2.6M118.5,301v2.6M185.2,508.3v-2.6M185.2,301v2.6M251.9,508.3v-2.6M251.9,301v2.6M318.6,508.3v-2.6M318.6,301v2.6M38.6,508.3h2.6M331.9,508.3h-2.6M38.6,461.98h2.6M331.9,461.98h-2.6M38.6,415.65h2.6M331.9,415.65h-2.6M38.6,369.32h2.6M331.9,369.32h-2.6M38.6,323h2.6M331.9,323h-2.6" stroke="#555" stroke-width="1" fill="none"/><g clip-path="url(#c38301)"><path d="M38.6,476.61 L40.07,475.64 L41.55,474.65 L43.02,473.64 L44.5,472.61 L45.97,471.56 L47.44,470.49 L48.92,469.4 L50.39,468.29 L51.86,467.16 L53.34,466.02 L54.81,464.85 L56.29,463.66 L57.76,462.46 L59.23,461.23 L60.71,459.99 L62.18,458.73 L63.66,457.45 L65.13,456.16 L66.6,454.85 L68.08,453.52 L69.55,452.17 L71.03,450.81 L72.5,449.43 L73.97,448.04 L75.45,446.63 L76.92,445.21 L78.39,443.77 L79.87,442.32 L81.34,440.86 L82.82,439.39 L84.29,437.9 L85.76,436.41 L87.24,434.9 L88.71,433.39 L90.19,431.86 L91.66,430.33 L93.13,428.79 L94.61,427.25 L96.08,425.7 L97.55,424.14 L99.03,422.58 L100.5,421.02 L101.98,419.45 L103.45,417.89 L104.92,416.32 L106.4,414.75 L107.87,413.19 L109.35,411.63 L110.82,410.07 L112.29,408.51 L113.77,406.96 L115.24,405.42 L116.72,403.88 L118.19,402.35 L119.66,400.84 L121.14,399.33 L122.61,397.83 L124.08,396.35 L125.56,394.88 L127.03,393.42 L128.51,391.98 L129.98,390.56 L131.45,389.15 L132.93,387.77 L134.4,386.4 L135.88,385.05 L137.35,383.73 L138.82,382.43 L140.3,381.15 L141.77,379.9 L143.24,378.67 L144.72,377.47 L146.19,376.3 L147.67,375.16 L149.14,374.05 L150.61,372.97 L152.09,371.92 L153.56,370.9 L155.04,369.91 L156.51,368.96 L157.98,368.05 L159.46,367.17 L160.93,366.32 L162.41,365.52 L163.88,364.75 L165.35,364.02 L166.83,363.33 L168.3,362.68 L169.77,362.07 L171.25,361.5 L172.72,360.97 L174.2,360.48 L175.67,360.03 L177.14,359.63 L178.62,359.27 L180.09,358.96 L181.57,358.68 L183.04,358.46 L184.51,358.27 L185.99,358.13 L187.46,358.03 L188.93,357.98 L190.41,357.97 L191.88,358.01 L193.36,358.09 L194.83,358.22 L196.3,358.39 L197.78,358.6 L199.25,358.86 L200.73,359.16 L202.2,359.5 L203.67,359.89 L205.15,360.32 L206.62,360.79 L208.09,361.31 L209.57,361.86 L211.04,362.46 L212.52,363.1 L213.99,363.77 L215.46,364.49 L216.94,365.24 L218.41,366.04 L219.89,366.87 L221.36,367.74 L222.83,368.64 L224.31,369.58 L225.78,370.55 L227.26,371.56 L228.73,372.6 L230.2,373.67 L231.68,374.77 L233.15,375.9 L234.62,377.06 L236.1,378.25 L237.57,379.47 L239.05,380.71 L240.52,381.98 L241.99,383.27 L243.47,384.59 L244.94,385.93 L246.42,387.29 L247.89,388.67 L249.36,390.07 L250.84,391.48 L252.31,392.92 L253.78,394.37 L255.26,395.83 L256.73,397.31 L258.21,398.8 L259.68,400.31 L261.15,401.82 L262.63,403.35 L264.1,404.88 L265.58,406.42 L267.05,407.97 L268.52,409.52 L270,411.08 L271.47,412.64 L272.95,414.21 L274.42,415.77 L275.89,417.34 L277.37,418.91 L278.84,420.47 L280.31,422.04 L281.79,423.6 L283.26,425.15 L284.74,426.71 L286.21,428.25 L287.68,429.8 L289.16,431.33 L290.63,432.86 L292.11,434.37 L293.58,435.88 L295.05,437.38 L296.53,438.87 L298,440.35 L299.47,441.81 L300.95,443.27 L302.42,444.71 L303.9,446.14 L305.37,447.55 L306.84,448.95 L308.32,450.33 L309.79,451.7 L311.27,453.05 L312.74,454.38 L314.21,455.7 L315.69,457 L317.16,458.29 L318.64,459.55 L320.11,460.8 L321.58,462.03 L323.06,463.24 L324.53,464.44 L326,465.61 L327.48,466.76 L328.95,467.9 L330.43,469.02 L331.9,470.11" stroke="#55acdc" stroke-width="1.3" stroke-dasharray="6,3.5" fill="none"/><path d="M38.6,503.33 L40.07,502.95 L41.55,502.54 L43.02,502.11 L44.5,501.65 L45.97,501.16 L47.44,500.64 L48.92,500.1 L50.39,499.52 L51.86,498.91 L53.34,498.27 L54.81,497.6 L56.29,496.89 L57.76,496.15 L59.23,495.37 L60.71,494.56 L62.18,493.7 L63.66,492.81 L65.13,491.89 L66.6,490.92 L68.08,489.91 L69.55,488.87 L71.03,487.78 L72.5,486.65 L73.97,485.49 L75.45,484.28 L76.92,483.04 L78.39,481.75 L79.87,480.43 L81.34,479.07 L82.82,477.68 L84.29,476.24 L85.76,474.78 L87.24,473.28 L88.71,471.74 L90.19,470.18 L91.66,468.59 L93.13,466.97 L94.61,465.33 L96.08,463.66 L97.55,461.98 L99.03,460.28 L100.5,458.56 L101.98,456.83 L103.45,455.09 L104.92,453.35 L106.4,451.6 L107.87,449.86 L109.35,448.12 L110.82,446.39 L112.29,444.66 L113.77,442.96 L115.24,441.27 L116.72,439.61 L118.19,437.97 L119.66,436.36 L121.14,434.78 L122.61,433.25 L124.08,431.75 L125.56,430.3 L127.03,428.9 L128.51,427.55 L129.98,426.26 L131.45,425.03 L132.93,423.86 L134.4,422.76 L135.88,421.72 L137.35,420.76 L138.82,419.87 L140.3,419.06 L141.77,418.33 L143.24,417.68 L144.72,417.11 L146.19,416.63 L147.67,416.23 L149.14,415.92 L150.61,415.7 L152.09,415.57 L153.56,415.52 L155.04,415.57 L156.51,415.7 L157.98,415.93 L159.46,416.24 L160.93,416.64 L162.41,417.12 L163.88,417.69 L165.35,418.35 L166.83,419.08 L168.3,419.89 L169.77,420.78 L171.25,421.75 L172.72,422.78 L174.2,423.89 L175.67,425.06 L177.14,426.29 L178.62,427.59 L180.09,428.94 L181.57,430.34 L183.04,431.79 L184.51,433.28 L185.99,434.82 L187.46,436.4 L188.93,438.01 L190.41,439.65 L191.88,441.31 L193.36,443 L194.83,444.71 L196.3,446.43 L197.78,448.16 L199.25,449.9 L200.73,451.65 L202.2,453.39 L203.67,455.13 L205.15,456.87 L206.62,458.6 L208.09,460.32 L209.57,462.02 L211.04,463.7 L212.52,465.37 L213.99,467.01 L215.46,468.63 L216.94,470.22 L218.41,471.78 L219.89,473.31 L221.36,474.81 L222.83,476.28 L224.31,477.71 L225.78,479.11 L227.26,480.46 L228.73,481.79 L230.2,483.07 L231.68,484.31 L233.15,485.52 L234.62,486.68 L236.1,487.81 L237.57,488.89 L239.05,489.94 L240.52,490.94 L241.99,491.91 L243.47,492.84 L244.94,493.73 L246.42,494.58 L247.89,495.39 L249.36,496.17 L250.84,496.91 L252.31,497.62 L253.78,498.29 L255.26,498.93 L256.73,499.53 L258.21,500.11 L259.68,500.65 L261.15,501.17 L262.63,501.66 L264.1,502.12 L265.58,502.55 L267.05,502.96 L268.52,503.34 L270,503.7 L271.47,504.04 L272.95,504.36 L274.42,504.66 L275.89,504.94 L277.37,505.19 L278.84,505.44 L280.31,505.66 L281.79,505.87 L283.26,506.07 L284.74,506.25 L286.21,506.42 L287.68,506.58 L289.16,506.72 L290.63,506.86 L292.11,506.98 L293.58,507.1 L295.05,507.2 L296.53,507.3 L298,507.39 L299.47,507.47 L300.95,507.55 L302.42,507.62 L303.9,507.68 L305.37,507.74 L306.84,507.79 L308.32,507.84 L309.79,507.88 L311.27,507.93 L312.74,507.96 L314.21,508 L315.69,508.03 L317.16,508.05 L318.64,508.08 L320.11,508.1 L321.58,508.12 L323.06,508.14 L324.53,508.16 L326,508.17 L327.48,508.19 L328.95,508.2 L330.43,508.21 L331.9,508.22" stroke="#55acdc" stroke-width="1.3" stroke-dasharray="6,3.5" fill="none"/><path d="M38.6,492.3 L40.07,491.57 L41.55,490.81 L43.02,490.03 L44.5,489.23 L45.97,488.4 L47.44,487.54 L48.92,486.66 L50.39,485.75 L51.86,484.82 L53.34,483.86 L54.81,482.87 L56.29,481.86 L57.76,480.81 L59.23,479.75 L60.71,478.65 L62.18,477.53 L63.66,476.38 L65.13,475.21 L66.6,474.01 L68.08,472.78 L69.55,471.53 L71.03,470.25 L72.5,468.95 L73.97,467.62 L75.45,466.27 L76.92,464.9 L78.39,463.5 L79.87,462.08 L81.34,460.64 L82.82,459.18 L84.29,457.7 L85.76,456.2 L87.24,454.69 L88.71,453.15 L90.19,451.61 L91.66,450.04 L93.13,448.47 L94.61,446.88 L96.08,445.28 L97.55,443.67 L99.03,442.05 L100.5,440.43 L101.98,438.8 L103.45,437.16 L104.92,435.53 L106.4,433.89 L107.87,432.26 L109.35,430.63 L110.82,429 L112.29,427.38 L113.77,425.76 L115.24,424.16 L116.72,422.57 L118.19,420.99 L119.66,419.42 L121.14,417.87 L122.61,416.35 L124.08,414.84 L125.56,413.35 L127.03,411.89 L128.51,410.45 L129.98,409.05 L131.45,407.67 L132.93,406.32 L134.4,405.01 L135.88,403.73 L137.35,402.49 L138.82,401.29 L140.3,400.13 L141.77,399.01 L143.24,397.93 L144.72,396.89 L146.19,395.91 L147.67,394.97 L149.14,394.08 L150.61,393.24 L152.09,392.45 L153.56,391.71 L155.04,391.03 L156.51,390.4 L157.98,389.83 L159.46,389.31 L160.93,388.85 L162.41,388.45 L163.88,388.11 L165.35,387.83 L166.83,387.6 L168.3,387.44 L169.77,387.33 L171.25,387.29 L172.72,387.3 L174.2,387.38 L175.67,387.51 L177.14,387.71 L178.62,387.96 L180.09,388.27 L181.57,388.65 L183.04,389.08 L184.51,389.56 L185.99,390.11 L187.46,390.71 L188.93,391.36 L190.41,392.07 L191.88,392.83 L193.36,393.65 L194.83,394.51 L196.3,395.43 L197.78,396.39 L199.25,397.4 L200.73,398.46 L202.2,399.56 L203.67,400.7 L205.15,401.88 L206.62,403.1 L208.09,404.36 L209.57,405.66 L211.04,406.99 L212.52,408.35 L213.99,409.74 L215.46,411.16 L216.94,412.61 L218.41,414.09 L219.89,415.58 L221.36,417.1 L222.83,418.64 L224.31,420.2 L225.78,421.77 L227.26,423.35 L228.73,424.95 L230.2,426.56 L231.68,428.18 L233.15,429.81 L234.62,431.44 L236.1,433.07 L237.57,434.7 L239.05,436.34 L240.52,437.97 L241.99,439.61 L243.47,441.23 L244.94,442.85 L246.42,444.47 L247.89,446.07 L249.36,447.67 L250.84,449.25 L252.31,450.82 L253.78,452.37 L255.26,453.92 L256.73,455.44 L258.21,456.95 L259.68,458.44 L261.15,459.91 L262.63,461.36 L264.1,462.79 L265.58,464.19 L267.05,465.58 L268.52,466.94 L270,468.28 L271.47,469.6 L272.95,470.89 L274.42,472.15 L275.89,473.39 L277.37,474.61 L278.84,475.79 L280.31,476.95 L281.79,478.09 L283.26,479.2 L284.74,480.28 L286.21,481.33 L287.68,482.36 L289.16,483.36 L290.63,484.34 L292.11,485.29 L293.58,486.21 L295.05,487.1 L296.53,487.97 L298,488.81 L299.47,489.63 L300.95,490.42 L302.42,491.19 L303.9,491.93 L305.37,492.65 L306.84,493.34 L308.32,494.01 L309.79,494.66 L311.27,495.28 L312.74,495.89 L314.21,496.46 L315.69,497.02 L317.16,497.56 L318.64,498.08 L320.11,498.57 L321.58,499.05 L323.06,499.51 L324.53,499.95 L326,500.37 L327.48,500.77 L328.95,501.16 L330.43,501.53 L331.9,501.89" stroke="#1f6fb0" stroke-width="2" fill="none"/></g><rect x="38.6" y="301" width="293.3" height="207.3" stroke="#5c5c5c" stroke-width="1.1" fill="none"/><path d="M51.8,489.31V470.31M49.2,489.31h5.2M49.2,470.31h5.2M118.5,477.73V366.55M115.9,477.73h5.2M115.9,366.55h5.2M185.2,451.78V319.06M182.6,451.78h5.2M182.6,319.06h5.2M251.9,491.16V416.81M249.3,491.16h5.2M249.3,416.81h5.2M318.6,492.09V487.45M316,492.09h5.2M316,487.45h5.2" stroke="#2e2e2e" stroke-width="1.5" fill="none"/><path d="M51.8,474.84L55.8,480.04L51.8,485.24L47.8,480.04Z" fill="#ff00ff" stroke="#111" stroke-width="1.2"/><path d="M118.5,417.17L122.5,422.37L118.5,427.57L114.5,422.37Z" fill="#ff00ff" stroke="#111" stroke-width="1.2"/><path d="M185.2,381.5L189.2,386.7L185.2,391.9L181.2,386.7Z" fill="#ff00ff" stroke="#111" stroke-width="1.2"/><path d="M251.9,448.44L255.9,453.64L251.9,458.84L247.9,453.64Z" fill="#ff00ff" stroke="#111" stroke-width="1.2"/><path d="M318.6,484.57L322.6,489.77L318.6,494.97L314.6,489.77Z" fill="#ff00ff" stroke="#111" stroke-width="1.2"/><rect x="194" y="305.5" width="133.2" height="36.8" fill="#fff" stroke="#6a6a6a" stroke-width="1"/><path d="M196.5,312.8H220" stroke="#1f6fb0" stroke-width="2"/><path d="M196.5,324.3H220" stroke="#55acdc" stroke-width="1.3" stroke-dasharray="6,3.5"/><path d="M208.25,331.9V339.7M206.15,331.9h4.2M206.15,339.7h4.2" stroke="#2a2a2a" stroke-width="1.3"/><path d="M208.25,332.6L210.65,335.8L208.25,339L205.85,335.8Z" fill="#ff00ff" stroke="#111" stroke-width="0.9"/><text x="222" y="316" font-size="9.1" textLength="66.86" lengthAdjust="spacingAndGlyphs" font-weight="bold" fill="#1e1e1e" stroke="#1e1e1e" stroke-width="0.12">Gaussian Model</text><text x="222" y="327.5" font-size="9.1" textLength="102.22" lengthAdjust="spacingAndGlyphs" font-weight="bold" fill="#1e1e1e" stroke="#1e1e1e" stroke-width="0.12">95% Confidance Bounds</text><text x="222" y="339" font-size="9.1" textLength="77.53" lengthAdjust="spacingAndGlyphs" font-weight="bold" fill="#1e1e1e" stroke="#1e1e1e" stroke-width="0.12">Progesterone Data</text><text x="51.8" y="523.8" font-size="10.5" font-weight="bold" text-anchor="middle" fill="#1e1e1e" stroke="#1e1e1e" stroke-width="0.3">-2</text><text x="118.5" y="523.8" font-size="10.5" font-weight="bold" text-anchor="middle" fill="#1e1e1e" stroke="#1e1e1e" stroke-width="0.3">-1</text><text x="185.2" y="523.8" font-size="10.5" font-weight="bold" text-anchor="middle" fill="#1e1e1e" stroke="#1e1e1e" stroke-width="0.3">0</text><text x="251.9" y="523.8" font-size="10.5" font-weight="bold" text-anchor="middle" fill="#1e1e1e" stroke="#1e1e1e" stroke-width="0.3">1</text><text x="318.6" y="523.8" font-size="10.5" font-weight="bold" text-anchor="middle" fill="#1e1e1e" stroke="#1e1e1e" stroke-width="0.3">2</text><text x="33.6" y="512.05" font-size="10.5" font-weight="bold" text-anchor="end" fill="#1e1e1e" stroke="#1e1e1e" stroke-width="0.3">0</text><text x="33.6" y="465.73" font-size="10.5" font-weight="bold" text-anchor="end" fill="#1e1e1e" stroke="#1e1e1e" stroke-width="0.3">20</text><text x="33.6" y="419.4" font-size="10.5" font-weight="bold" text-anchor="end" fill="#1e1e1e" stroke="#1e1e1e" stroke-width="0.3">40</text><text x="33.6" y="373.07" font-size="10.5" font-weight="bold" text-anchor="end" fill="#1e1e1e" stroke="#1e1e1e" stroke-width="0.3">60</text><text x="33.6" y="326.75" font-size="10.5" font-weight="bold" text-anchor="end" fill="#1e1e1e" stroke="#1e1e1e" stroke-width="0.3">80</text><text x="185.55" y="540.3" font-size="12.25" font-weight="bold" text-anchor="middle" fill="#1e1e1e" stroke="#1e1e1e" stroke-width="0.3">Day Relative to Ovulation (Ov)</text><text transform="translate(17.2,403.8) rotate(-90)" font-size="12.35" font-weight="bold" text-anchor="middle" fill="#1e1e1e" stroke="#1e1e1e" stroke-width="0.3">Luteinizing Hormone (mIU/L)</text><text x="169.5" y="289.6" font-size="14" font-weight="bold" text-anchor="middle" fill="#1e1e1e" stroke="#1e1e1e" stroke-width="0.3">(c)</text><clipPath id="c383300"><rect x="383.2" y="300.4" width="284.7" height="208.8"/></clipPath><path d="M403.5,300.4V509.2M414.5,300.4V509.2M425.5,300.4V509.2M435.5,300.4V509.2M456.5,300.4V509.2M467.5,300.4V509.2M478.5,300.4V509.2M488.5,300.4V509.2M509.5,300.4V509.2M520.5,300.4V509.2M530.5,300.4V509.2M541.5,300.4V509.2M562.5,300.4V509.2M573.5,300.4V509.2M583.5,300.4V509.2M594.5,300.4V509.2M615.5,300.4V509.2M626.5,300.4V509.2M636.5,300.4V509.2M647.5,300.4V509.2M383.2,500.5H667.9M383.2,492.5H667.9M383.2,484.5H667.9M383.2,475.5H667.9M383.2,458.5H667.9M383.2,450.5H667.9M383.2,442.5H667.9M383.2,433.5H667.9M383.2,417.5H667.9M383.2,408.5H667.9M383.2,400.5H667.9M383.2,392.5H667.9M383.2,375.5H667.9M383.2,366.5H667.9M383.2,358.5H667.9M383.2,350.5H667.9M383.2,333.5H667.9M383.2,325.5H667.9M383.2,316.5H667.9M383.2,308.5H667.9" stroke="#d6d6d6" stroke-width="1" stroke-dasharray="1,2" fill="none"/><path d="M393.5,300.4V509.2M446.5,300.4V509.2M499.5,300.4V509.2M552.5,300.4V509.2M605.5,300.4V509.2M658.5,300.4V509.2M383.2,509.5H667.9M383.2,467.5H667.9M383.2,425.5H667.9M383.2,383.5H667.9M383.2,341.5H667.9M383.2,299.5H667.9" stroke="#bababa" stroke-width="1" fill="none"/><path d="M393.4,509.2v-2.6M393.4,300.4v2.6M446.32,509.2v-2.6M446.32,300.4v2.6M499.24,509.2v-2.6M499.24,300.4v2.6M552.16,509.2v-2.6M552.16,300.4v2.6M605.08,509.2v-2.6M605.08,300.4v2.6M658,509.2v-2.6M658,300.4v2.6M383.2,509.2h2.6M667.9,509.2h-2.6M383.2,467.35h2.6M667.9,467.35h-2.6M383.2,425.5h2.6M667.9,425.5h-2.6M383.2,383.65h2.6M667.9,383.65h-2.6M383.2,341.8h2.6M667.9,341.8h-2.6M383.2,299.95h2.6M667.9,299.95h-2.6" stroke="#555" stroke-width="1" fill="none"/><g clip-path="url(#c383300)"><path d="M383.2,391.87 L384.63,390.89 L386.06,389.9 L387.49,388.92 L388.92,387.94 L390.35,386.96 L391.78,385.99 L393.21,385.02 L394.65,384.05 L396.08,383.09 L397.51,382.13 L398.94,381.18 L400.37,380.23 L401.8,379.29 L403.23,378.35 L404.66,377.42 L406.09,376.5 L407.52,375.58 L408.95,374.66 L410.38,373.75 L411.81,372.85 L413.24,371.96 L414.67,371.07 L416.11,370.19 L417.54,369.32 L418.97,368.45 L420.4,367.59 L421.83,366.74 L423.26,365.9 L424.69,365.06 L426.12,364.24 L427.55,363.42 L428.98,362.62 L430.41,361.82 L431.84,361.03 L433.27,360.25 L434.7,359.48 L436.13,358.72 L437.56,357.97 L439,357.23 L440.43,356.5 L441.86,355.78 L443.29,355.08 L444.72,354.38 L446.15,353.69 L447.58,353.02 L449.01,352.36 L450.44,351.71 L451.87,351.07 L453.3,350.44 L454.73,349.83 L456.16,349.23 L457.59,348.64 L459.02,348.06 L460.46,347.5 L461.89,346.95 L463.32,346.41 L464.75,345.89 L466.18,345.38 L467.61,344.88 L469.04,344.4 L470.47,343.93 L471.9,343.47 L473.33,343.03 L474.76,342.61 L476.19,342.19 L477.62,341.8 L479.05,341.41 L480.48,341.04 L481.92,340.69 L483.35,340.35 L484.78,340.03 L486.21,339.72 L487.64,339.42 L489.07,339.15 L490.5,338.88 L491.93,338.63 L493.36,338.4 L494.79,338.18 L496.22,337.98 L497.65,337.8 L499.08,337.63 L500.51,337.47 L501.94,337.33 L503.37,337.21 L504.81,337.1 L506.24,337.01 L507.67,336.94 L509.1,336.88 L510.53,336.83 L511.96,336.81 L513.39,336.79 L514.82,336.8 L516.25,336.82 L517.68,336.85 L519.11,336.91 L520.54,336.97 L521.97,337.06 L523.4,337.16 L524.83,337.27 L526.27,337.4 L527.7,337.55 L529.13,337.71 L530.56,337.89 L531.99,338.09 L533.42,338.3 L534.85,338.52 L536.28,338.76 L537.71,339.02 L539.14,339.29 L540.57,339.58 L542,339.88 L543.43,340.2 L544.86,340.53 L546.29,340.87 L547.73,341.24 L549.16,341.61 L550.59,342 L552.02,342.41 L553.45,342.83 L554.88,343.26 L556.31,343.71 L557.74,344.17 L559.17,344.65 L560.6,345.14 L562.03,345.64 L563.46,346.16 L564.89,346.69 L566.32,347.24 L567.75,347.79 L569.18,348.36 L570.62,348.95 L572.05,349.54 L573.48,350.15 L574.91,350.77 L576.34,351.4 L577.77,352.05 L579.2,352.7 L580.63,353.37 L582.06,354.05 L583.49,354.74 L584.92,355.45 L586.35,356.16 L587.78,356.88 L589.21,357.62 L590.64,358.36 L592.08,359.12 L593.51,359.88 L594.94,360.66 L596.37,361.44 L597.8,362.23 L599.23,363.04 L600.66,363.85 L602.09,364.67 L603.52,365.5 L604.95,366.34 L606.38,367.19 L607.81,368.04 L609.24,368.9 L610.67,369.77 L612.1,370.65 L613.54,371.53 L614.97,372.43 L616.4,373.32 L617.83,374.23 L619.26,375.14 L620.69,376.06 L622.12,376.98 L623.55,377.91 L624.98,378.85 L626.41,379.79 L627.84,380.73 L629.27,381.68 L630.7,382.64 L632.13,383.59 L633.56,384.56 L634.99,385.53 L636.43,386.5 L637.86,387.47 L639.29,388.45 L640.72,389.43 L642.15,390.42 L643.58,391.4 L645.01,392.39 L646.44,393.39 L647.87,394.38 L649.3,395.38 L650.73,396.38 L652.16,397.38 L653.59,398.38 L655.02,399.38 L656.45,400.38 L657.89,401.39 L659.32,402.39 L660.75,403.4 L662.18,404.4 L663.61,405.41 L665.04,406.41 L666.47,407.42 L667.9,408.42" stroke="#55acdc" stroke-width="1.3" stroke-dasharray="6,3.5" fill="none"/><path d="M383.2,435.93 L384.63,434.48 L386.06,433.04 L387.49,431.6 L388.92,430.18 L390.35,428.77 L391.78,427.37 L393.21,425.99 L394.65,424.62 L396.08,423.27 L397.51,421.94 L398.94,420.63 L400.37,419.34 L401.8,418.08 L403.23,416.84 L404.66,415.63 L406.09,414.45 L407.52,413.3 L408.95,412.18 L410.38,411.09 L411.81,410.04 L413.24,409.03 L414.67,408.05 L416.11,407.11 L417.54,406.2 L418.97,405.34 L420.4,404.53 L421.83,403.75 L423.26,403.02 L424.69,402.33 L426.12,401.69 L427.55,401.1 L428.98,400.56 L430.41,400.06 L431.84,399.61 L433.27,399.21 L434.7,398.87 L436.13,398.57 L437.56,398.32 L439,398.13 L440.43,397.99 L441.86,397.9 L443.29,397.86 L444.72,397.88 L446.15,397.94 L447.58,398.06 L449.01,398.23 L450.44,398.46 L451.87,398.73 L453.3,399.06 L454.73,399.43 L456.16,399.86 L457.59,400.34 L459.02,400.86 L460.46,401.43 L461.89,402.05 L463.32,402.72 L464.75,403.43 L466.18,404.19 L467.61,404.99 L469.04,405.83 L470.47,406.71 L471.9,407.64 L473.33,408.6 L474.76,409.6 L476.19,410.64 L477.62,411.71 L479.05,412.82 L480.48,413.95 L481.92,415.12 L483.35,416.32 L484.78,417.54 L486.21,418.8 L487.64,420.07 L489.07,421.37 L490.5,422.69 L491.93,424.04 L493.36,425.4 L494.79,426.77 L496.22,428.17 L497.65,429.57 L499.08,430.99 L500.51,432.42 L501.94,433.86 L503.37,435.31 L504.81,436.76 L506.24,438.22 L507.67,439.68 L509.1,441.14 L510.53,442.6 L511.96,444.07 L513.39,445.53 L514.82,446.98 L516.25,448.43 L517.68,449.88 L519.11,451.32 L520.54,452.75 L521.97,454.17 L523.4,455.58 L524.83,456.98 L526.27,458.37 L527.7,459.74 L529.13,461.1 L530.56,462.44 L531.99,463.77 L533.42,465.07 L534.85,466.37 L536.28,467.64 L537.71,468.9 L539.14,470.13 L540.57,471.35 L542,472.54 L543.43,473.71 L544.86,474.87 L546.29,476 L547.73,477.1 L549.16,478.19 L550.59,479.25 L552.02,480.29 L553.45,481.31 L554.88,482.3 L556.31,483.28 L557.74,484.22 L559.17,485.15 L560.6,486.05 L562.03,486.93 L563.46,487.78 L564.89,488.61 L566.32,489.42 L567.75,490.2 L569.18,490.97 L570.62,491.71 L572.05,492.43 L573.48,493.12 L574.91,493.8 L576.34,494.45 L577.77,495.08 L579.2,495.69 L580.63,496.28 L582.06,496.86 L583.49,497.41 L584.92,497.94 L586.35,498.45 L587.78,498.95 L589.21,499.42 L590.64,499.88 L592.08,500.32 L593.51,500.75 L594.94,501.15 L596.37,501.55 L597.8,501.92 L599.23,502.28 L600.66,502.63 L602.09,502.96 L603.52,503.28 L604.95,503.58 L606.38,503.87 L607.81,504.15 L609.24,504.42 L610.67,504.67 L612.1,504.91 L613.54,505.15 L614.97,505.37 L616.4,505.58 L617.83,505.78 L619.26,505.97 L620.69,506.15 L622.12,506.32 L623.55,506.49 L624.98,506.64 L626.41,506.79 L627.84,506.93 L629.27,507.07 L630.7,507.19 L632.13,507.31 L633.56,507.43 L634.99,507.53 L636.43,507.64 L637.86,507.73 L639.29,507.82 L640.72,507.91 L642.15,507.99 L643.58,508.07 L645.01,508.14 L646.44,508.21 L647.87,508.27 L649.3,508.33 L650.73,508.39 L652.16,508.44 L653.59,508.49 L655.02,508.54 L656.45,508.58 L657.89,508.63 L659.32,508.67 L660.75,508.7 L662.18,508.74 L663.61,508.77 L665.04,508.8 L666.47,508.83 L667.9,508.85" stroke="#55acdc" stroke-width="1.3" stroke-dasharray="6,3.5" fill="none"/><path d="M383.2,413.49 L384.63,412.37 L386.06,411.24 L387.49,410.12 L388.92,409.01 L390.35,407.9 L391.78,406.8 L393.21,405.7 L394.65,404.61 L396.08,403.53 L397.51,402.45 L398.94,401.39 L400.37,400.33 L401.8,399.28 L403.23,398.24 L404.66,397.21 L406.09,396.19 L407.52,395.19 L408.95,394.19 L410.38,393.2 L411.81,392.23 L413.24,391.27 L414.67,390.32 L416.11,389.39 L417.54,388.47 L418.97,387.57 L420.4,386.68 L421.83,385.8 L423.26,384.95 L424.69,384.1 L426.12,383.28 L427.55,382.47 L428.98,381.68 L430.41,380.9 L431.84,380.15 L433.27,379.41 L434.7,378.69 L436.13,377.99 L437.56,377.31 L439,376.65 L440.43,376.01 L441.86,375.4 L443.29,374.8 L444.72,374.22 L446.15,373.67 L447.58,373.13 L449.01,372.62 L450.44,372.13 L451.87,371.67 L453.3,371.22 L454.73,370.8 L456.16,370.41 L457.59,370.03 L459.02,369.68 L460.46,369.36 L461.89,369.06 L463.32,368.78 L464.75,368.52 L466.18,368.3 L467.61,368.09 L469.04,367.91 L470.47,367.76 L471.9,367.63 L473.33,367.52 L474.76,367.44 L476.19,367.39 L477.62,367.36 L479.05,367.35 L480.48,367.37 L481.92,367.42 L483.35,367.49 L484.78,367.58 L486.21,367.71 L487.64,367.85 L489.07,368.02 L490.5,368.22 L491.93,368.44 L493.36,368.68 L494.79,368.95 L496.22,369.24 L497.65,369.56 L499.08,369.9 L500.51,370.26 L501.94,370.65 L503.37,371.06 L504.81,371.5 L506.24,371.96 L507.67,372.44 L509.1,372.94 L510.53,373.46 L511.96,374.01 L513.39,374.58 L514.82,375.17 L516.25,375.78 L517.68,376.41 L519.11,377.06 L520.54,377.74 L521.97,378.43 L523.4,379.14 L524.83,379.87 L526.27,380.62 L527.7,381.38 L529.13,382.17 L530.56,382.97 L531.99,383.79 L533.42,384.63 L534.85,385.48 L536.28,386.35 L537.71,387.23 L539.14,388.13 L540.57,389.05 L542,389.97 L543.43,390.92 L544.86,391.87 L546.29,392.84 L547.73,393.82 L549.16,394.81 L550.59,395.81 L552.02,396.83 L553.45,397.85 L554.88,398.89 L556.31,399.94 L557.74,400.99 L559.17,402.05 L560.6,403.13 L562.03,404.21 L563.46,405.29 L564.89,406.39 L566.32,407.49 L567.75,408.59 L569.18,409.71 L570.62,410.82 L572.05,411.94 L573.48,413.07 L574.91,414.2 L576.34,415.33 L577.77,416.47 L579.2,417.61 L580.63,418.75 L582.06,419.89 L583.49,421.03 L584.92,422.18 L586.35,423.32 L587.78,424.47 L589.21,425.61 L590.64,426.75 L592.08,427.9 L593.51,429.04 L594.94,430.17 L596.37,431.31 L597.8,432.44 L599.23,433.57 L600.66,434.7 L602.09,435.82 L603.52,436.94 L604.95,438.05 L606.38,439.16 L607.81,440.27 L609.24,441.37 L610.67,442.46 L612.1,443.55 L613.54,444.63 L614.97,445.7 L616.4,446.77 L617.83,447.83 L619.26,448.88 L620.69,449.93 L622.12,450.97 L623.55,452 L624.98,453.02 L626.41,454.03 L627.84,455.03 L629.27,456.03 L630.7,457.02 L632.13,457.99 L633.56,458.96 L634.99,459.92 L636.43,460.87 L637.86,461.81 L639.29,462.73 L640.72,463.65 L642.15,464.56 L643.58,465.46 L645.01,466.35 L646.44,467.22 L647.87,468.09 L649.3,468.94 L650.73,469.79 L652.16,470.62 L653.59,471.44 L655.02,472.26 L656.45,473.06 L657.89,473.85 L659.32,474.62 L660.75,475.39 L662.18,476.15 L663.61,476.89 L665.04,477.63 L666.47,478.35 L667.9,479.06" stroke="#1f6fb0" stroke-width="2" fill="none"/></g><rect x="383.2" y="300.4" width="284.7" height="208.8" stroke="#5c5c5c" stroke-width="1.1" fill="none"/><path d="M393.4,434.29V364.4M390.8,434.29h5.2M390.8,364.4h5.2M446.32,436.8V334.69M443.72,436.8h5.2M443.72,334.69h5.2M499.24,421.48V301.83M496.64,421.48h5.2M496.64,301.83h5.2M552.16,455.92V329.5M549.56,455.92h5.2M549.56,329.5h5.2M605.08,488.19V417.21M602.48,488.19h5.2M602.48,417.21h5.2M658,480.16V449.94M655.4,480.16h5.2M655.4,449.94h5.2" stroke="#2e2e2e" stroke-width="1.5" fill="none"/><path d="M393.4,394.35L397.4,399.55L393.4,404.75L389.4,399.55Z" fill="#ff00ff" stroke="#111" stroke-width="1.2"/><path d="M446.32,380.17L450.32,385.37L446.32,390.57L442.32,385.37Z" fill="#ff00ff" stroke="#111" stroke-width="1.2"/><path d="M499.24,355.73L503.24,360.93L499.24,366.13L495.24,360.93Z" fill="#ff00ff" stroke="#111" stroke-width="1.2"/><path d="M552.16,387.87L556.16,393.07L552.16,398.27L548.16,393.07Z" fill="#ff00ff" stroke="#111" stroke-width="1.2"/><path d="M605.08,447.42L609.08,452.62L605.08,457.82L601.08,452.62Z" fill="#ff00ff" stroke="#111" stroke-width="1.2"/><path d="M658,460.06L662,465.26L658,470.46L654,465.26Z" fill="#ff00ff" stroke="#111" stroke-width="1.2"/><rect x="384.6" y="470.4" width="134.1" height="36.8" fill="#fff" stroke="#6a6a6a" stroke-width="1"/><path d="M387.1,477.6H410.6" stroke="#1f6fb0" stroke-width="2"/><path d="M387.1,489H410.6" stroke="#55acdc" stroke-width="1.3" stroke-dasharray="6,3.5"/><path d="M398.85,496.3V504.1M396.75,496.3h4.2M396.75,504.1h4.2" stroke="#2a2a2a" stroke-width="1.3"/><path d="M398.85,497L401.25,500.2L398.85,503.4L396.45,500.2Z" fill="#ff00ff" stroke="#111" stroke-width="0.9"/><text x="414.1" y="481" font-size="9.1" textLength="66.86" lengthAdjust="spacingAndGlyphs" font-weight="bold" fill="#1e1e1e" stroke="#1e1e1e" stroke-width="0.12">Gaussian Model</text><text x="414.1" y="492.4" font-size="9.1" textLength="102.22" lengthAdjust="spacingAndGlyphs" font-weight="bold" fill="#1e1e1e" stroke="#1e1e1e" stroke-width="0.12">95% Confidance Bounds</text><text x="414.1" y="503.6" font-size="9.1" textLength="59.11" lengthAdjust="spacingAndGlyphs" font-weight="bold" fill="#1e1e1e" stroke="#1e1e1e" stroke-width="0.12">Estrogen Data</text><text x="393.4" y="524.7" font-size="10.5" font-weight="bold" text-anchor="middle" fill="#1e1e1e" stroke="#1e1e1e" stroke-width="0.3">-3</text><text x="446.32" y="524.7" font-size="10.5" font-weight="bold" text-anchor="middle" fill="#1e1e1e" stroke="#1e1e1e" stroke-width="0.3">-2</text><text x="499.24" y="524.7" font-size="10.5" font-weight="bold" text-anchor="middle" fill="#1e1e1e" stroke="#1e1e1e" stroke-width="0.3">-1</text><text x="552.16" y="524.7" font-size="10.5" font-weight="bold" text-anchor="middle" fill="#1e1e1e" stroke="#1e1e1e" stroke-width="0.3">0</text><text x="605.08" y="524.7" font-size="10.5" font-weight="bold" text-anchor="middle" fill="#1e1e1e" stroke="#1e1e1e" stroke-width="0.3">1</text><text x="658" y="524.7" font-size="10.5" font-weight="bold" text-anchor="middle" fill="#1e1e1e" stroke="#1e1e1e" stroke-width="0.3">2</text><text x="378.2" y="512.95" font-size="10.5" font-weight="bold" text-anchor="end" fill="#1e1e1e" stroke="#1e1e1e" stroke-width="0.3">0</text><text x="378.2" y="471.1" font-size="10.5" font-weight="bold" text-anchor="end" fill="#1e1e1e" stroke="#1e1e1e" stroke-width="0.3">100</text><text x="378.2" y="429.25" font-size="10.5" font-weight="bold" text-anchor="end" fill="#1e1e1e" stroke="#1e1e1e" stroke-width="0.3">200</text><text x="378.2" y="387.4" font-size="10.5" font-weight="bold" text-anchor="end" fill="#1e1e1e" stroke="#1e1e1e" stroke-width="0.3">300</text><text x="378.2" y="345.55" font-size="10.5" font-weight="bold" text-anchor="end" fill="#1e1e1e" stroke="#1e1e1e" stroke-width="0.3">400</text><text x="378.2" y="303.7" font-size="10.5" font-weight="bold" text-anchor="end" fill="#1e1e1e" stroke="#1e1e1e" stroke-width="0.3">500</text><text x="525.85" y="541.2" font-size="12.25" font-weight="bold" text-anchor="middle" fill="#1e1e1e" stroke="#1e1e1e" stroke-width="0.3">Day Relative to Ovulation (Ov)</text><text transform="translate(353.6,406.4) rotate(-90)" font-size="12.35" font-weight="bold" text-anchor="middle" fill="#1e1e1e" stroke="#1e1e1e" stroke-width="0.3">Estradiol (ng/L)</text><text x="507" y="289.6" font-size="14" font-weight="bold" text-anchor="middle" fill="#1e1e1e" stroke="#1e1e1e" stroke-width="0.3">(d)</text><path d="M1.7,1.8V546.6H674.5V1.8" stroke="#474747" stroke-width="1.5" fill="none"/><path d="M1,1.8H675.2" stroke="#262626" stroke-width="1.9" fill="none"/><path d="M1,273.8H675" stroke="#333" stroke-width="1.8"/><path d="M338,1V547" stroke="#777" stroke-width="1.8"/></svg></body></html>
